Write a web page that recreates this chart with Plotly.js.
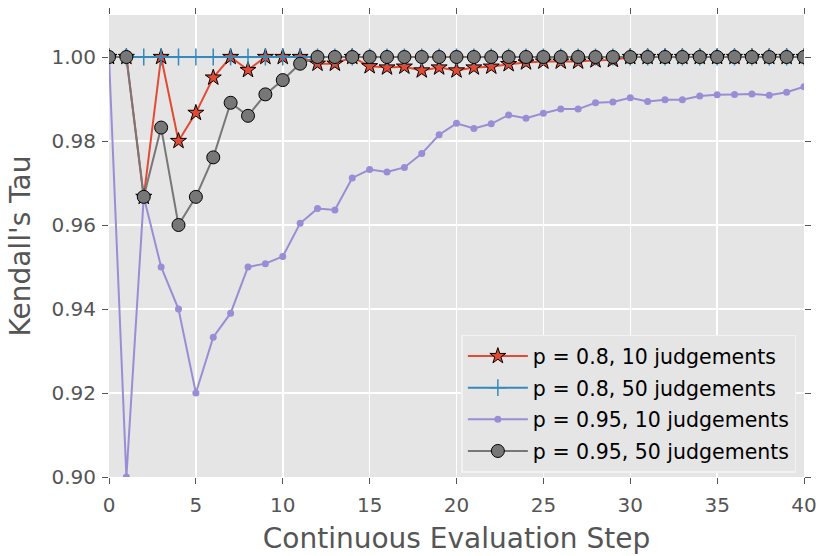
<!DOCTYPE html>
<html>
<head>
<meta charset="utf-8">
<script src="https://cdn.plot.ly/plotly-3.0.1.min.js"></script>
<style>html,body{margin:0;padding:0;background:#fff;}#chart{width:818px;height:556px;}</style>
</head>
<body>
<div id="chart"></div>
<script>
// Continuous evaluation steps 0..40
const steps = [0,1,2,3,4,5,6,7,8,9,10,11,12,13,14,15,16,17,18,19,20,21,22,23,24,25,26,27,28,29,30,31,32,33,34,35,36,37,38,39,40];

// p = 0.8, 10 judgements
const p08_10 = [1.0,1.0,0.9667,1.0,0.98,0.9867,0.9951,1.0,0.9969,1.0,1.0,1.0,0.9984,0.9984,1.0,0.9978,0.9975,0.9977,0.9968,0.9975,0.9968,0.9975,0.9977,0.9983,0.9987,0.9989,0.9989,0.9989,0.9992,0.9993,1.0,1.0,1.0,1.0,1.0,1.0,1.0,1.0,1.0,1.0,1.0];

// p = 0.8, 50 judgements
const p08_50 = [1.0,1.0,1.0,1.0,1.0,1.0,1.0,1.0,1.0,1.0,1.0,1.0,1.0,1.0,1.0,1.0,1.0,1.0,1.0,1.0,1.0,1.0,1.0,1.0,1.0,1.0,1.0,1.0,1.0,1.0,1.0,1.0,1.0,1.0,1.0,1.0,1.0,1.0,1.0,1.0,1.0];

// p = 0.95, 10 judgements
const p095_10 = [1.0,0.90,0.9667,0.95,0.94,0.92,0.9333,0.939,0.95,0.9508,0.9525,0.9604,0.9639,0.9636,0.9712,0.9732,0.9726,0.9737,0.977,0.9815,0.9842,0.983,0.9841,0.9862,0.9854,0.9866,0.9876,0.9876,0.9891,0.9893,0.9903,0.9894,0.9898,0.9898,0.9907,0.991,0.9911,0.9912,0.9909,0.9916,0.9929];

// p = 0.95, 50 judgements
const p095_50 = [1.0,1.0,0.9667,0.9832,0.96,0.9667,0.9761,0.9891,0.986,0.9911,0.9945,0.9984,1.0,1.0,1.0,1.0,1.0,1.0,1.0,1.0,1.0,1.0,1.0,1.0,1.0,1.0,1.0,1.0,1.0,1.0,1.0,1.0,1.0,1.0,1.0,1.0,1.0,1.0,1.0,1.0,1.0];

const seriesNames = ["p = 0.8, 10 judgements","p = 0.8, 50 judgements","p = 0.95, 10 judgements","p = 0.95, 50 judgements"];
const xTicks = [0,5,10,15,20,25,30,35,40];
const yTicks = [0.90,0.92,0.94,0.96,0.98,1.00];
const yTickText = ["0.90","0.92","0.94","0.96","0.98","1.00"];

const traces = [
  {x: steps, y: p08_10, name: seriesNames[0], legendgroup: "a", mode: "lines+markers",
   line: {color: "#E24A33", width: 2},
   marker: {symbol: "star", size: 12, color: "#E24A33", line: {color: "#000", width: 1}}},
  {x: steps, y: p08_50, name: seriesNames[1], legendgroup: "b", mode: "lines+markers",
   line: {color: "#348ABD", width: 2},
   marker: {symbol: "cross-thin", size: 12, color: "#348ABD", line: {color: "#348ABD", width: 1.5}}},
  {x: steps, y: p095_10, name: seriesNames[2], legendgroup: "c", mode: "lines+markers",
   line: {color: "#988ED5", width: 2},
   marker: {symbol: "circle", size: 7, color: "#988ED5", line: {width: 0}}},
  {x: steps, y: p095_50, name: seriesNames[3], legendgroup: "d", mode: "lines+markers",
   line: {color: "#777777", width: 2},
   marker: {symbol: "circle", size: 13, color: "#777777", line: {color: "#000", width: 1}}}
];

const layout = {
  width: 818, height: 556,
  margin: {l: 109.3, r: 14, t: 14.6, b: 78.7, pad: 0},
  paper_bgcolor: "#ffffff",
  plot_bgcolor: "#E5E5E5",
  font: {family: "DejaVu Sans", color: "#555555", size: 20},
  showlegend: true,
  legend: {
    x: 0.507, y: 0.308, xanchor: "left", yanchor: "top",
    bgcolor: "#E5E5E5", bordercolor: "#F2F2F2", borderwidth: 1.5,
    font: {family: "DejaVu Sans", color: "#000000", size: 20.5},
    itemwidth: 60, tracegroupgap: 2, traceorder: "grouped"
  },
  xaxis: {
    range: [0, 40], tickvals: xTicks, ticktext: xTicks.map(String),
    showgrid: true, gridcolor: "#FFFFFF", gridwidth: 1.5,
    zeroline: false, showline: false,
    ticks: "outside", ticklen: 6, tickwidth: 1, tickcolor: "#555555", mirror: "ticks",
    ticklabelstandoff: 4,
    tickfont: {family: "DejaVu Sans", size: 20, color: "#555555"},
    title: {text: "Continuous Evaluation Step", font: {family: "DejaVu Sans", size: 28, color: "#555555"}, standoff: 12}
  },
  yaxis: {
    range: [0.90, 1.01], tickvals: yTicks, ticktext: yTickText,
    showgrid: true, gridcolor: "#FFFFFF", gridwidth: 1.5,
    zeroline: false, showline: false,
    ticks: "outside", ticklen: 6, tickwidth: 1, tickcolor: "#555555", mirror: "ticks",
    ticklabelstandoff: 2,
    tickfont: {family: "DejaVu Sans", size: 20, color: "#555555"},
    title: {text: "Kendall's Tau", font: {family: "DejaVu Sans", size: 28, color: "#555555"}, standoff: 12}
  }
};

const gd = document.getElementById("chart");
Plotly.newPlot(gd, traces, layout, {displayModeBar: false, staticPlot: true}).then(function () {
  // clip markers to the plotting area, as the original does
  const cp = gd.querySelector('clipPath[id$="xyplot"]');
  const layer = gd.querySelector(".cartesianlayer .subplot.xy .plot");
  if (cp && layer) layer.setAttribute("clip-path", "url(#" + cp.id + ")");
});
</script>
</body>
</html>
